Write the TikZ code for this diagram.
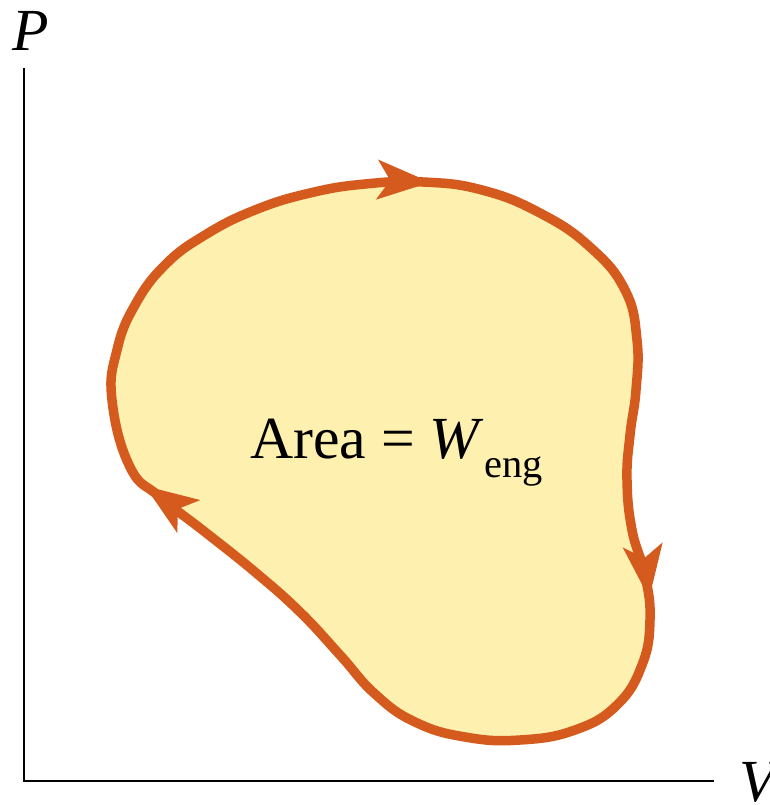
\documentclass[tikz,border=0pt]{standalone}
\usepackage{tikz}
\usepackage{xcolor}
\usepackage{fontspec}
\setmainfont{Liberation Serif}
\usetikzlibrary{arrows.meta, decorations.markings}

\definecolor{loopfill}{RGB}{254,240,174}
\definecolor{loopline}{RGB}{212,90,30}

\begin{document}
\begin{tikzpicture}[
    x=0.02cm, y=-0.02cm,
    >={Stealth[length=30pt,width=22pt,inset=7pt]},
    axis/.style={line width=1.1pt, black},
    bigtext/.style={font=\fontsize{34}{40}\selectfont, inner sep=0pt},
    cycleline/.style={line width=5.4pt, draw=loopline, fill=loopfill, line join=round},
    flowarrows/.style={postaction={decorate, decoration={markings,
        mark=at position 0.218 with {\arrow[loopline]{>}},
        mark=at position 0.527 with {\arrow[loopline]{>}},
        mark=at position 0.918 with {\arrow[loopline]{>}}}}}
]
    % Frame
    \useasboundingbox (0,0) rectangle (769,805);

    % Axes
    \coordinate (origin) at (24,781);
    \coordinate (ptop) at (24,68);
    \coordinate (vend) at (714,781);
    \draw[axis] (ptop) -- (origin) -- (vend);
    \node[bigtext, anchor=base] (plabel) at (31,50) {\textit{P}};
    \node[bigtext, anchor=base west] (vlabel) at (739,801) {\textit{V}};

    % Cycle
    \draw[cycleline, flowarrows] plot[smooth cycle, tension=0.75] coordinates {
        (112,400) (117,350) (135,305) (165,265) (205,235) (255,210)
        (310,193) (365,184) (423,182) (482,190) (540,213) (590,247)
        (625,290) (637,340) (636,390) (630,435) (627,480) (632,530)
        (645,575) (650,620) (642,665) (617,705) (575,730) (520,740)
        (465,737) (415,722) (375,694) (340,655) (300,612) (255,572)
        (205,532) (160,497) (130,467)};

    % Area label
    \node[bigtext, anchor=base west] (arealabel) at (250,458)
        {Area = \textit{W}\raisebox{-0.32em}{\fontsize{23}{27}\selectfont eng}};
\end{tikzpicture}
\end{document}
